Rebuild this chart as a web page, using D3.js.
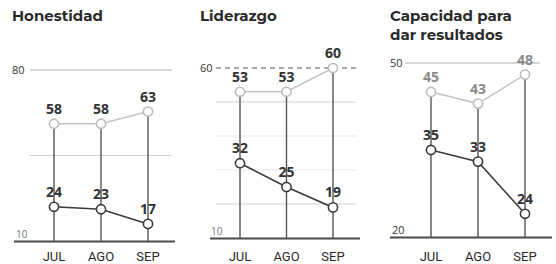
<!DOCTYPE html>
<html><head><meta charset="utf-8">
<script src="https://cdn.jsdelivr.net/npm/d3@7"></script>
<style>html,body{margin:0;padding:0;background:#fff;}svg{display:block;}</style>
</head><body>
<svg id="c" width="556" height="264"></svg>
<script>
const months = ["JUL", "AGO", "SEP"];
const titles = [["Honestidad"], ["Liderazgo"], ["Capacidad para", "dar resultados"]];
const honestidadTop = [58, 58, 63];
const honestidadBottom = [24, 23, 17];
const liderazgoTop = [53, 53, 60];
const liderazgoBottom = [32, 25, 19];
const capacidadTop = [45, 43, 48];
const capacidadBottom = [35, 33, 24];
const axisTicks = [[10, 80], [10, 60], [20, 50]];
const gridValues = [[80, 45], [60, 50, 40, 30, 20], [50]];
const faintGrid = [[], [40, 30], []];

const panels = [
  {title: titles[0], top: honestidadTop, bottom: honestidadBottom, ticks: axisTicks[0], grid: gridValues[0], faint: faintGrid[0],
   x0: 54, x1: 148, yr: [241, 70], base: [14, 175], gx: [30, 172], tx: [16, 12], titleX: 12, topLabel: "#333"},
  {title: titles[1], top: liderazgoTop, bottom: liderazgoBottom, ticks: axisTicks[1], grid: gridValues[1], faint: faintGrid[1],
   x0: 240, x1: 333, yr: [238, 68], base: [210, 360], gx: [216, 356], tx: [211, 200], titleX: 200, topLabel: "#333", dashTop: true},
  {title: titles[2], top: capacidadTop, bottom: capacidadBottom, ticks: axisTicks[2], grid: gridValues[2], faint: faintGrid[2],
   x0: 431, x1: 525, yr: [237, 63], base: [390, 552], gx: [405, 540], tx: [392, 390], titleX: 390, topLabel: "#8a8a8a"}
];

const svg = d3.select("#c");
const font = "'Open Sans', sans-serif";

panels.forEach(p => {
  const g = svg.append("g");
  const x = d3.scalePoint().domain(months).range([p.x0, p.x1]);
  const y = d3.scaleLinear().domain(p.ticks).range(p.yr);
  const ymax = p.ticks[1];

  p.title.forEach((t, i) => {
    g.append("text").attr("x", p.titleX).attr("y", 21 + i * 19).text(t)
      .attr("font-family", "Montserrat, 'Open Sans', sans-serif").attr("font-weight", 700)
      .attr("font-size", 15).attr("fill", "#2a2a2a");
  });

  p.grid.forEach(v => {
    const isTop = v === ymax;
    const dashed = isTop && p.dashTop;
    const faint = p.faint.includes(v);
    g.append("line").attr("x1", p.gx[0]).attr("x2", p.gx[1])
      .attr("y1", y(v)).attr("y2", y(v))
      .attr("stroke", dashed ? "#555" : (faint ? "#e8e8e8" : (isTop ? "#d8d8d8" : "#cfcfcf")))
      .attr("stroke-width", dashed ? 1 : (isTop ? 2 : 1.2))
      .attr("stroke-dasharray", dashed ? "5,4" : null);
  });

  g.append("text").attr("x", p.tx[1]).attr("y", y(ymax) + 4).text(p.ticks[1])
    .attr("font-family", font).attr("font-size", 11).attr("fill", "#333");
  g.append("text").attr("x", p.tx[0]).attr("y", y(p.ticks[0]) - 3).text(p.ticks[0])
    .attr("font-family", font).attr("font-size", p.ticks[0] === 20 ? 11 : 10)
    .attr("fill", p.ticks[0] === 20 ? "#333" : "#777");

  const baseY = p.yr[0];
  g.append("line").attr("x1", p.base[0]).attr("x2", p.base[1])
    .attr("y1", baseY + 0.5).attr("y2", baseY + 0.5)
    .attr("stroke", "#4a4a4a").attr("stroke-width", 2);

  months.forEach((m, i) => {
    g.append("line").attr("x1", x(m)).attr("x2", x(m))
      .attr("y1", y(p.top[i])).attr("y2", baseY)
      .attr("stroke", "#555").attr("stroke-width", 1.4);
  });

  const line = d3.line().x((d, i) => x(months[i])).y(d => y(d));
  g.append("path").attr("d", line(p.top)).attr("fill", "none")
    .attr("stroke", "#c4c4c4").attr("stroke-width", 1.6);
  g.append("path").attr("d", line(p.bottom)).attr("fill", "none")
    .attr("stroke", "#3a3a3a").attr("stroke-width", 1.6);

  [[p.top, "#bdbdbd", p.topLabel], [p.bottom, "#3a3a3a", "#333"]].forEach(([vals, col, lc]) => {
    g.selectAll(null).data(vals).join("circle")
      .attr("cx", (d, i) => x(months[i])).attr("cy", d => y(d)).attr("r", 4.6)
      .attr("fill", "#fff").attr("stroke", col).attr("stroke-width", 1.6);
    g.selectAll(null).data(vals).join("text")
      .attr("x", (d, i) => x(months[i])).attr("y", d => y(d) - 10)
      .attr("text-anchor", "middle").text(d => d)
      .attr("font-family", font).attr("font-weight", 700).attr("font-size", 14).attr("fill", lc);
  });

  months.forEach(m => {
    g.append("text").attr("x", x(m)).attr("y", 261).attr("text-anchor", "middle").text(m)
      .attr("font-family", "Roboto, sans-serif").attr("font-size", 13).attr("fill", "#2a2a2a");
  });
});
</script>
</body></html>
